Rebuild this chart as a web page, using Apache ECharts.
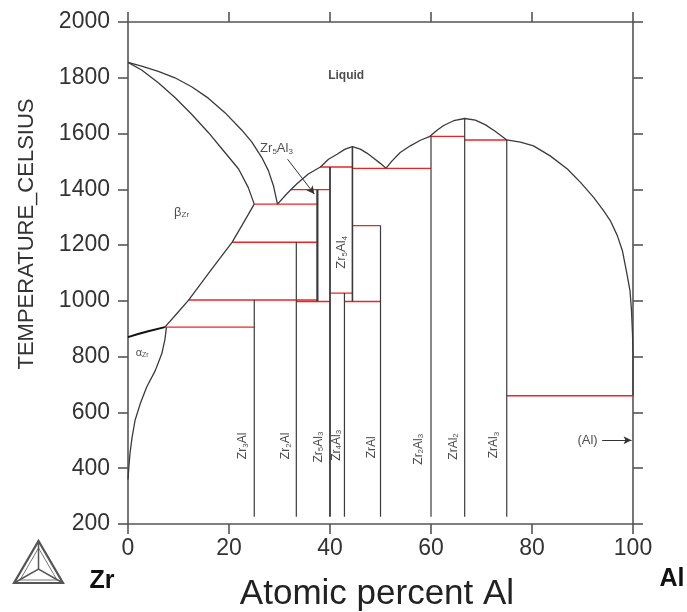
<!DOCTYPE html>
<html>
<head>
<meta charset="utf-8">
<script src="https://cdn.jsdelivr.net/npm/echarts@6/dist/echarts.min.js"></script>
<style>
  html, body { margin: 0; padding: 0; background: #fff; }
  #chart { width: 687px; height: 612px; }
</style>
</head>
<body>
<div id="chart"></div>
<script>
// Zr–Al binary phase diagram (temperature in °C vs atomic percent Al)

const xTicks = [0, 20, 40, 60, 80, 100];
const yTicks = [200, 400, 600, 800, 1000, 1200, 1400, 1600, 1800, 2000];

// Liquidus branches [at.% Al, T]
const liquidusZr   = [[0,1855],[2.7,1842],[6,1823],[9.3,1800],[12.6,1768],[15.9,1727],[19.2,1675],[22.5,1613],[24.5,1570],[26.5,1514],[27.8,1467],[28.8,1413],[29.6,1347]];
const liquidusMid1 = [[29.6,1347],[31.5,1385],[33.4,1419],[35.7,1455],[38.1,1480],[39.7,1508],[41.4,1526],[43,1544],[44.44,1553],[46,1544],[47.3,1530],[48.6,1512],[49.9,1494],[51.1,1476]];
const liquidusMid2 = [[51.1,1476],[52.3,1502],[53.9,1532],[55.9,1556],[57.9,1576],[59.8,1590]];
const liquidusMid3 = [[59.8,1590],[61.2,1612],[62.5,1629],[64.5,1646],[66.67,1654],[68.8,1648],[70.8,1631],[72.7,1608],[75,1577]];
const liquidusAl   = [[75,1577],[77.7,1569],[80.3,1556],[83.6,1520],[87,1473],[89.6,1425],[92.2,1371],[94.2,1323],[95.5,1288],[96.9,1234],[97.9,1180],[98.8,1097],[99.4,1037],[99.7,966],[99.9,882],[100,811],[100,660]];

// Solidus and solid-state boundaries on the Zr side
const solidusBeta   = [[0,1855],[2.7,1828],[6,1782],[9.3,1729],[12.6,1669],[15.9,1604],[19.2,1532],[21.9,1473],[23.8,1407],[25,1347]];
const betaSolvus    = [[25,1347],[22.8,1278],[20.6,1210],[16.2,1105],[12,1003],[9.6,953],[7.3,906]];
const alphaBeta     = [[0,870],[2,881],[4,891],[7.3,906]];
const alphaSolvus   = [[7.6,904],[7.3,860],[6.7,811],[5.4,750],[3.7,691],[2.4,630],[1.4,572],[0.8,510],[0.4,454],[0.15,400],[0,360]];

// Invariant reactions: [T, x from, x to]
const invariants = [
  [1399, 32.2, 40],
  [1480, 38.1, 44.44],
  [1475, 44.44, 60],
  [1590, 59.8, 66.67],
  [1577, 66.67, 75],
  [1347, 25, 37.5],
  [1270, 44.44, 50],
  [1210, 20.6, 37.5],
  [1028, 40, 44.44],
  [1003, 12, 37.5],
  [998, 33.33, 40],
  [998, 42.86, 50],
  [906, 7.3, 25],
  [660, 75, 100]
];

// Intermetallic compounds: [x, T top, T bottom, line width]
const compounds = [
  [25, 1003, 226, 1.2],
  [33.33, 1210, 226, 1.2],
  [37.5, 1399, 998, 2.2],
  [40, 1480, 226, 1.8],
  [42.86, 1028, 226, 1.2],
  [44.44, 1553, 998, 1.6],
  [50, 1270, 226, 1.2],
  [60, 1590, 226, 1.2],
  [66.67, 1654, 226, 1.2],
  [75, 1577, 226, 1.2]
];

// Phase labels: [x, T, text, rotate, weight, size]
const phaseLabels = [
  [43.2, 1806, 'Liquid', 0, 'bold', 12],
  [10.6, 1318, 'β{s|Zr}', 0, 'normal', 13],
  [2.8, 813, 'α{s|Zr}', 0, 'normal', 11],
  [29.4, 1545, 'Zr{s|5}Al{s|3}', 0, 'normal', 13],
  [42.3, 1174, 'Zr{s|5}Al{s|4}', 90, 'normal', 13],
  [22.8, 480, 'Zr{s|3}Al', 90, 'normal', 12],
  [31.3, 480, 'Zr{s|2}Al', 90, 'normal', 12],
  [37.7, 476, 'Zr{s|5}Al{s|3}', 90, 'normal', 12],
  [41.3, 482, 'Zr{s|4}Al{s|3}', 90, 'normal', 12],
  [48.3, 475, 'ZrAl', 90, 'normal', 12],
  [57.5, 468, 'Zr{s|2}Al{s|3}', 90, 'normal', 12],
  [64.4, 478, 'ZrAl{s|2}', 90, 'normal', 12],
  [72.5, 483, 'ZrAl{s|3}', 90, 'normal', 12],
  [91.0, 500, '(Al)', 0, 'normal', 13]
];

// Pointer arrows: [x1, T1, x2, T2]
const pointers = [
  [31.6, 1508, 36.9, 1383],
  [93.9, 500, 99.7, 500]
];

const FONT = '"Liberation Sans", Arial, Helvetica, sans-serif';
const LINE = '#3a3a3a';
const RED = '#ee2424';
const AXIS = '#555';

const series = [];
function curve(data, color, width) {
  series.push({
    type: 'line', data: data, smooth: false, symbol: 'none', silent: true,
    lineStyle: { color: color, width: width, join: 'round' }, z: 3
  });
}
[liquidusZr, liquidusMid1, liquidusMid2, liquidusMid3, liquidusAl, solidusBeta, alphaSolvus, betaSolvus]
  .forEach(d => curve(d, LINE, 1.3));
curve(alphaBeta, '#111', 2);
invariants.forEach(([t, a, b]) => {
  series.push({ type: 'line', data: [[a, t], [b, t]], symbol: 'none', silent: true,
    lineStyle: { color: RED, width: 1.4 }, z: 2 });
});
compounds.forEach(([x, t1, t2, w]) => {
  series.push({ type: 'line', data: [[x, t1], [x, t2]], symbol: 'none', silent: true,
    lineStyle: { color: LINE, width: w }, z: 4 });
});
series.push({
  type: 'scatter', symbolSize: 0, silent: true, z: 5,
  data: phaseLabels.map(([x, t, txt, rot, fw, fs]) => ({
    value: [x, t],
    label: {
      show: true, position: 'inside', formatter: txt, rotate: rot,
      fontFamily: FONT, fontSize: fs, fontWeight: fw, color: '#222',
      rich: { s: { fontFamily: FONT, fontSize: Math.round(fs * 0.65), color: '#222', verticalAlign: 'bottom', padding: [Math.round(fs * 0.45), 0, 0, 0] } }
    }
  }))
});
series.push({
  type: 'line', data: [], symbol: 'none', silent: true,
  markLine: {
    silent: true, symbol: ['none', 'arrow'], symbolSize: [6, 8], label: { show: false },
    lineStyle: { color: '#333', width: 1, type: 'solid' },
    data: pointers.map(([x1, t1, x2, t2]) => [{ coord: [x1, t1] }, { coord: [x2, t2] }])
  }
});

function xAxisDef(pos, labels) {
  return {
    type: 'value', position: pos, min: xTicks[0], max: xTicks[xTicks.length - 1], interval: 20,
    axisLine: { show: true, onZero: false, lineStyle: { color: AXIS, width: 1.6 } },
    axisTick: { show: true, inside: false, length: 10, lineStyle: { color: AXIS, width: 1.6 } },
    axisLabel: { show: labels, fontFamily: FONT, fontSize: 23, color: '#333', margin: 13, formatter: v => String(v) },
    splitLine: { show: false }
  };
}
function yAxisDef(pos, labels) {
  return {
    type: 'value', position: pos, min: yTicks[0], max: yTicks[yTicks.length - 1], interval: 200,
    axisLine: { show: true, onZero: false, lineStyle: { color: AXIS, width: 1.6 } },
    axisTick: { show: true, inside: false, length: 10, lineStyle: { color: AXIS, width: 1.6 } },
    axisLabel: { show: labels, fontFamily: FONT, fontSize: 23, color: '#333', margin: 18, formatter: v => String(v) },
    splitLine: { show: false }
  };
}

const chart = echarts.init(document.getElementById('chart'), null, { renderer: 'canvas' });
chart.setOption({
  animation: false,
  backgroundColor: '#fff',
  grid: { left: 128, right: 54, top: 22, bottom: 88 },
  xAxis: [xAxisDef('bottom', true), xAxisDef('top', false)],
  yAxis: [yAxisDef('left', true), yAxisDef('right', false)],
  series: series,
  graphic: [
    { type: 'text', x: 377, y: 594, style: { text: 'Atomic percent Al', font: '35px ' + FONT, fill: '#222', textAlign: 'center', textVerticalAlign: 'middle' } },
    { type: 'text', x: 27, y: 234, rotation: Math.PI / 2, style: { text: 'TEMPERATURE_CELSIUS', font: '22px ' + FONT, fill: '#333', textAlign: 'center', textVerticalAlign: 'middle' } },
    { type: 'text', x: 102, y: 581, style: { text: 'Zr', font: 'bold 25px ' + FONT, fill: '#111', textAlign: 'center', textVerticalAlign: 'middle' } },
    { type: 'text', x: 672, y: 579, style: { text: 'Al', font: 'bold 25px ' + FONT, fill: '#111', textAlign: 'center', textVerticalAlign: 'middle' } },
    // ternary logo
    { type: 'polygon', shape: { points: [[14, 583], [63, 583], [38.5, 541]] }, style: { fill: 'none', stroke: '#555', lineWidth: 2.2 } },
    { type: 'polygon', shape: { points: [[20, 580], [57, 580], [38.5, 548]] }, style: { fill: 'none', stroke: '#777', lineWidth: 1 } },
    { type: 'polyline', shape: { points: [[38.5, 541], [38.5, 569]] }, style: { stroke: '#555', lineWidth: 1.5 } },
    { type: 'polyline', shape: { points: [[14, 583], [38.5, 569], [63, 583]] }, style: { fill: 'none', stroke: '#555', lineWidth: 1.5 } }
  ]
});
</script>
</body>
</html>
